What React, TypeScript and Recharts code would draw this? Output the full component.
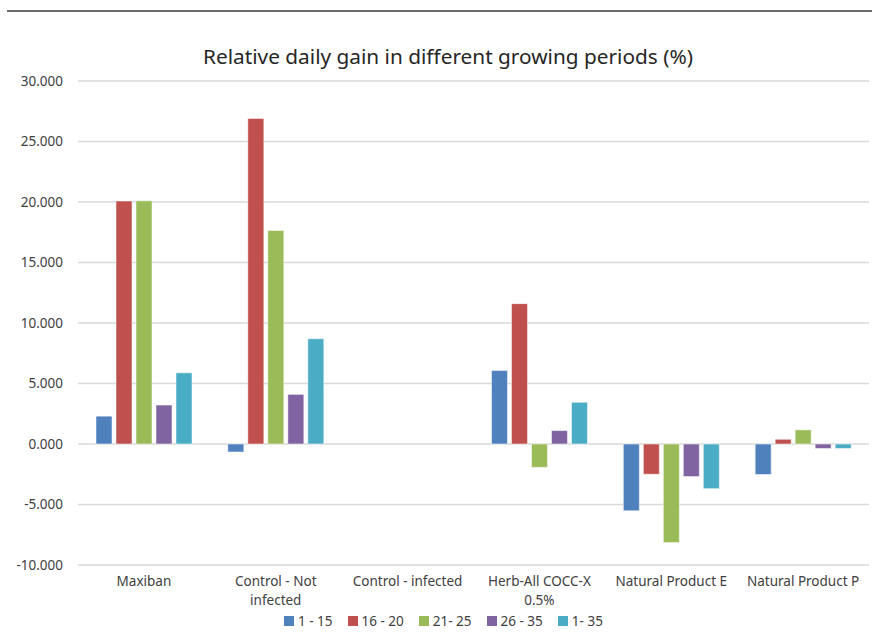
import React from "react"
import { Bar, BarChart, CartesianGrid, XAxis, YAxis } from "recharts"

const categories = [
  "Maxiban",
  "Control - Not infected",
  "Control - infected",
  "Herb-All COCC-X 0.5%",
  "Natural Product E",
  "Natural Product P",
]

const seriesNames = ["1 - 15", "16 - 20", "21- 25", "26 - 35", "1- 35"]
const seriesColors = ["#4F81BD", "#C0504D", "#9BBB59", "#8064A2", "#4BACC6"]

const p1to15 = [2.3, -0.66, 0, 6.07, -5.52, -2.52]
const p16to20 = [20.08, 26.9, 0, 11.6, -2.5, 0.39]
const p21to25 = [20.1, 17.65, 0, -1.93, -8.15, 1.17]
const p26to35 = [3.22, 4.1, 0, 1.11, -2.69, -0.37]
const p1to35 = [5.88, 8.7, 0, 3.45, -3.69, -0.37]

const yTicks = [-10, -5, 0, 5, 10, 15, 20, 25, 30]

const seriesValues = [p1to15, p16to20, p21to25, p26to35, p1to35]
const data = categories.map((name, i) => {
  const row: Record<string, string | number> = { name }
  seriesNames.forEach((s, j) => {
    row[s] = seriesValues[j][i]
  })
  return row
})

const FONT = "'Noto Sans', sans-serif"

function wrap(label: string, max: number) {
  const words = label.split(" ")
  const lines: string[] = []
  let cur = ""
  for (const w of words) {
    const next = cur ? cur + " " + w : w
    if (next.length > max && cur) {
      lines.push(cur)
      cur = w
    } else cur = next
  }
  if (cur) lines.push(cur)
  return lines
}

function CategoryTick(props: any) {
  const { x, y, payload } = props
  const lines = wrap(payload.value, 19)
  return (
    <text x={x} y={y} textAnchor="middle" fill="#404040" fontSize={13.5} fontFamily={FONT}>
      {lines.map((l, i) => (
        <tspan key={i} x={x} dy={i === 0 ? 13 : 19}>
          {l}
        </tspan>
      ))}
    </text>
  )
}

export default function App() {
  return (
    <div style={{ position: "absolute", left: 0, top: 0, width: 872, height: 642, background: "#fff", fontFamily: FONT }}>
      <div style={{ position: "absolute", left: 7, right: 0, top: 10, height: 2, background: "#6b6b6b" }} />
      <div
        style={{
          position: "absolute",
          left: 0,
          width: 896,
          top: 42,
          textAlign: "center",
          fontSize: 20.8,
          color: "#262626",
        }}
      >
        Relative daily gain in different growing periods (%)
      </div>
      <BarChart
        width={872}
        height={642}
        data={data}
        margin={{ top: 81, right: 3, bottom: 37, left: 0 }}
        barCategoryGap={18}
        barGap={4}
      >
        <CartesianGrid vertical={false} stroke="#d9d9d9" strokeWidth={1.5} />
        <XAxis
          dataKey="name"
          axisLine={false}
          tickLine={false}
          interval={0}
          height={40}
          tick={<CategoryTick />}
        />
        <YAxis
          width={78}
          domain={[-10, 30]}
          ticks={yTicks}
          axisLine={false}
          tickLine={false}
          tickSize={0}
          tickMargin={15}
          tickFormatter={(v: number) => v.toFixed(3)}
          tick={{ fill: "#404040", fontSize: 13.5, fontFamily: FONT }}
        />
        {seriesNames.map((s, j) => (
          <Bar
            key={s}
            dataKey={s}
            fill={seriesColors[j]}
            stroke="#ffffff"
            strokeOpacity={0.5}
            strokeWidth={1}
            isAnimationActive={false}
          />
        ))}
      </BarChart>
      <div
        style={{
          position: "absolute",
          top: 612,
          left: 284,
          display: "flex",
          gap: 15,
          fontSize: 13.5,
          color: "#404040",
          alignItems: "center",
        }}
      >
        {seriesNames.map((s, j) => (
          <div key={s} style={{ display: "flex", alignItems: "center", gap: 4 }}>
            <span style={{ width: 10, height: 10, background: seriesColors[j], display: "inline-block" }} />
            <span>{s}</span>
          </div>
        ))}
      </div>
    </div>
  )
}
